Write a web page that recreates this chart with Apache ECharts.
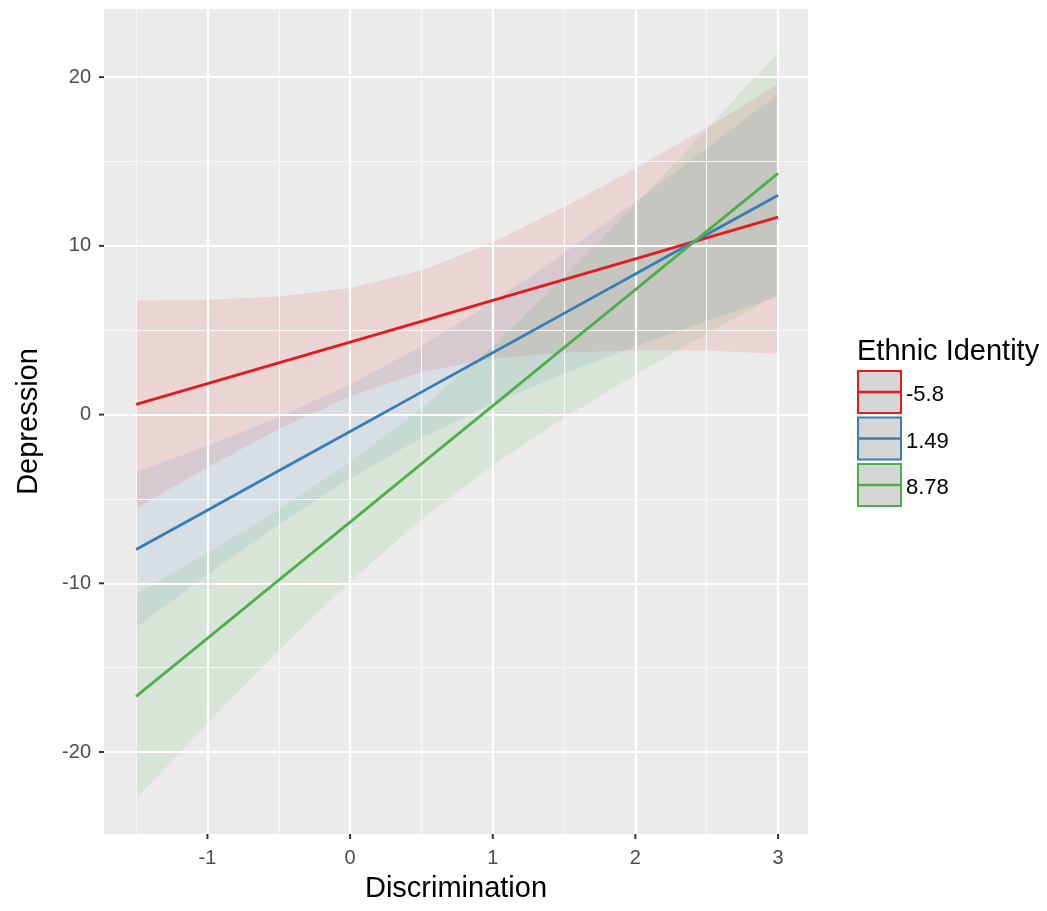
<!DOCTYPE html>
<html>
<head>
<meta charset="utf-8">
<script src="https://cdn.jsdelivr.net/npm/echarts@6/dist/echarts.min.js"></script>
<style>html,body{margin:0;padding:0;background:#fff}#c{width:1047px;height:911px}</style>
</head>
<body>
<div id="c"></div>
<script>
// ---- data ----
const xs = [-1.5, -1, -0.5, 0, 0.5, 1, 1.5, 2, 2.5, 3];
const groupNames = ['-5.8', '1.49', '8.78'];
const redFit   = [0.6, 1.83, 3.07, 4.3, 5.53, 6.77, 8.0, 9.23, 10.47, 11.7];
const redUpper = [6.75, 6.8, 7.0, 7.5, 8.54, 10.2, 12.3, 14.6, 17.0, 19.6];
const redLower = [-5.55, -3.14, -0.86, 1.09, 2.52, 3.32, 3.68, 3.8, 3.8, 3.6];
const blueFit   = [-8.0, -5.67, -3.33, -1.0, 1.33, 3.67, 6.0, 8.33, 10.67, 13.0];
const blueUpper = [-3.4, -1.84, -0.14, 1.79, 4.05, 6.68, 9.57, 12.62, 15.79, 19.0];
const blueLower = [-12.6, -9.5, -6.52, -3.79, -1.39, 0.66, 2.43, 4.04, 5.55, 7.0];
const greenFit   = [-16.7, -13.26, -9.81, -6.37, -2.92, 0.52, 3.97, 7.41, 10.86, 14.3];
const greenUpper = [-10.63, -8.21, -5.64, -2.83, 0.38, 4.06, 8.14, 12.46, 16.93, 21.48];
const greenLower = [-22.77, -18.31, -13.98, -9.91, -6.22, -3.02, -0.2, 2.36, 4.79, 7.12];
const xTicks = [-1, 0, 1, 2, 3];
const xMinor = [-1.5, -0.5, 0.5, 1.5, 2.5];
const yTicks = [-20, -10, 0, 10, 20];
const yMinor = [-15, -5, 5, 15];

// ---- styling / layout ----
const X_MIN = -1.725, X_MAX = 3.21, Y_MIN = -24.86, Y_MAX = 24.04;
const colors = ['#E41A1C', '#377EB8', '#4DAF4A'];
const fills = ['rgba(228,26,28,0.11)', 'rgba(55,126,184,0.11)', 'rgba(77,175,74,0.11)'];
const FONT = 'Liberation Sans, Arial, Helvetica, sans-serif';
const TICK_COLOR = '#333333';

const groups = [
  {fit: redFit, up: redUpper, lo: redLower},
  {fit: blueFit, up: blueUpper, lo: blueLower},
  {fit: greenFit, up: greenUpper, lo: greenLower}
];

const series = [];
// grid lines drawn through the axis scales
const gl = [];
xMinor.forEach(v => gl.push({xAxis: v, lineStyle: {color: '#F7F7F7', width: 1.1, type: 'solid'}}));
yMinor.forEach(v => gl.push({yAxis: v, lineStyle: {color: '#F7F7F7', width: 1.1, type: 'solid'}}));
xTicks.forEach(v => gl.push({xAxis: v, lineStyle: {color: '#FFFFFF', width: 2.2, type: 'solid'}}));
yTicks.forEach(v => gl.push({yAxis: v, lineStyle: {color: '#FFFFFF', width: 2.2, type: 'solid'}}));
series.push({
  type: 'line', data: [], z: 1, silent: true,
  markLine: {silent: true, symbol: ['none', 'none'], label: {show: false}, animation: false, data: gl}
});

// axis tick marks (outside the panel) placed through the scales
series.push({
  type: 'custom', silent: true, clip: false, z: 6,
  data: xTicks.map(v => [v, Y_MIN]), encode: {x: 0, y: 1},
  renderItem: function (params, api) {
    const p = api.coord([api.value(0), Y_MIN]);
    return {type: 'line', shape: {x1: p[0], y1: p[1], x2: p[0], y2: p[1] + 5},
      style: {stroke: TICK_COLOR, lineWidth: 2}};
  }
});
series.push({
  type: 'custom', silent: true, clip: false, z: 6,
  data: yTicks.map(v => [X_MIN, v]), encode: {x: 0, y: 1},
  renderItem: function (params, api) {
    const p = api.coord([X_MIN, api.value(1)]);
    return {type: 'line', shape: {x1: p[0] - 5, y1: p[1], x2: p[0], y2: p[1]},
      style: {stroke: TICK_COLOR, lineWidth: 2}};
  }
});

// confidence ribbons as polygons placed through the axes
groups.forEach((g, i) => {
  series.push({
    type: 'custom', z: 2, silent: true,
    data: xs.map((x, k) => [x, g.lo[k], g.up[k]]),
    encode: {x: 0, y: [1, 2]},
    renderItem: function (params, api) {
      if (params.dataIndex !== 0) return null;
      const pts = [];
      for (let k = 0; k < xs.length; k++) pts.push(api.coord([xs[k], g.up[k]]));
      for (let k = xs.length - 1; k >= 0; k--) pts.push(api.coord([xs[k], g.lo[k]]));
      return {type: 'polygon', shape: {points: pts}, style: {fill: fills[i]}};
    }
  });
});
groups.forEach((g, i) => {
  series.push({
    type: 'line', name: groupNames[i], z: 5, symbol: 'none', silent: true,
    lineStyle: {color: colors[i], width: 2.8},
    data: xs.map((x, k) => [x, g.fit[k]])
  });
});

// legend drawn as graphic keys
const legendEls = [{
  type: 'text',
  style: {x: 857, y: 352, text: 'Ethnic Identity', font: '29px ' + FONT, fill: '#000', verticalAlign: 'middle'}
}];
groupNames.forEach((n, i) => {
  const y0 = 371 + i * 46.5;
  legendEls.push({type: 'rect', shape: {x: 858, y: y0, width: 43, height: 42},
    style: {fill: '#D6D6D6', stroke: colors[i], lineWidth: 2}});
  legendEls.push({type: 'line', shape: {x1: 859, y1: y0 + 21, x2: 900, y2: y0 + 21},
    style: {stroke: colors[i], lineWidth: 2.7}});
  legendEls.push({type: 'text',
    style: {x: 906, y: y0 + 24, text: n, font: '22px ' + FONT, fill: '#000', verticalAlign: 'middle'}});
});

const chart = echarts.init(document.getElementById('c'), null, {renderer: 'canvas'});
chart.setOption({
  animation: false,
  backgroundColor: '#FFFFFF',
  grid: {left: 104, right: 239, top: 9, bottom: 77, show: true, backgroundColor: '#EBEBEB', borderWidth: 0},
  xAxis: {
    type: 'value', min: X_MIN, max: X_MAX,
    name: 'Discrimination', nameLocation: 'middle', nameGap: 40,
    nameTextStyle: {fontSize: 29, color: '#000', fontFamily: FONT},
    axisLine: {show: false},
    axisTick: {show: false},
    axisLabel: {customValues: xTicks, fontSize: 20, color: '#4D4D4D', fontFamily: FONT, margin: 14},
    splitLine: {show: false}
  },
  yAxis: {
    type: 'value', min: Y_MIN, max: Y_MAX,
    name: 'Depression', nameLocation: 'middle', nameGap: 61, nameRotate: 90,
    nameTextStyle: {fontSize: 29, color: '#000', fontFamily: FONT},
    axisLine: {show: false},
    axisTick: {show: false},
    axisLabel: {customValues: yTicks, fontSize: 20, color: '#4D4D4D', fontFamily: FONT, margin: 13},
    splitLine: {show: false}
  },
  series: series,
  graphic: legendEls
});
</script>
</body>
</html>
